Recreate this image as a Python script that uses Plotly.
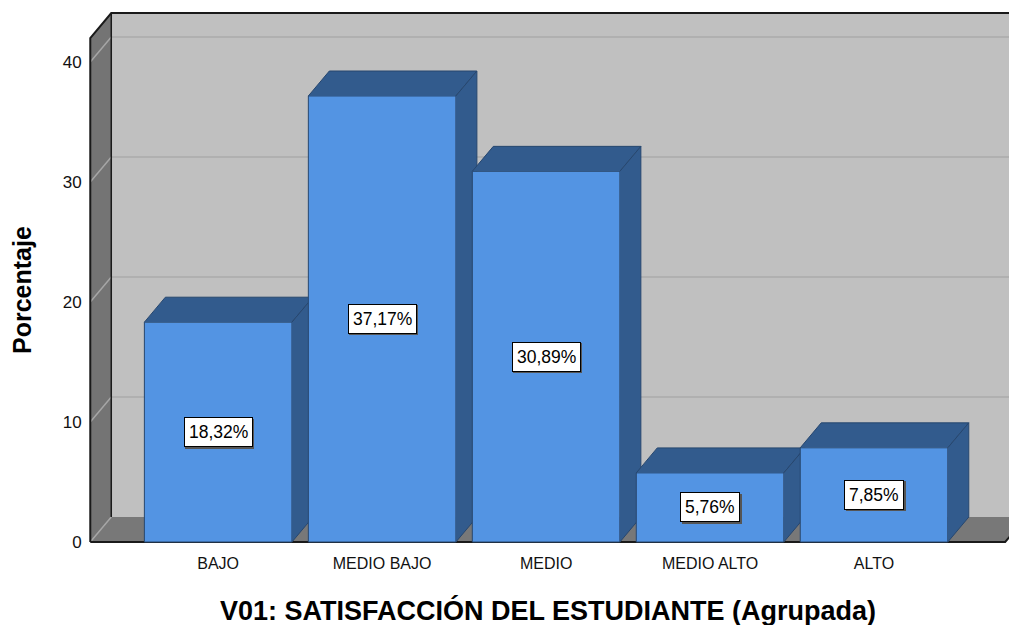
import plotly.graph_objects as go

# ---------------- data ----------------
categories = ["BAJO", "MEDIO BAJO", "MEDIO", "MEDIO ALTO", "ALTO"]
percentages = [18.32, 37.17, 30.89, 5.76, 7.85]
y_ticks = [0, 10, 20, 30, 40]
x_title = "V01: SATISFACCIÓN DEL ESTUDIANTE (Agrupada)"
y_title = "Porcentaje"

# ---------------- style ----------------
FONT = "Liberation Sans, Arial, sans-serif"
FRONT = "#5394E3"
DARK = "#325B8D"
EDGE = "#27476F"
WALL_BACK = "#C0C0C0"
WALL_SIDE = "#747474"
FLOOR = "#787878"
GRID_BACK = "#B0B0B0"
GRID_SIDE = "#A6A6A6"

BAR_W = 0.9          # bar width in category units
DX = 0.128           # 3D depth offset (x units)
DY = 2.08            # 3D depth offset (y units)
X_LEFT = -0.78       # front edge of left wall
X_RIGHT = 4.80       # front right edge of floor
WALL_TOP = 42.0      # height of the front edge of the left wall
XR = [-0.80, 4.872]
YR = [-0.25, 44.25]
FAR = XR[1] + 1

# the page body has an 8px default margin; the figure is sized to compensate
PAGE_OFF = 8

fig = go.Figure()


def poly(xs, ys, fill, line_color, line_width, xa="x", ya="y"):
    fig.add_trace(go.Scatter(
        x=xs, y=ys, mode="lines", fill="toself", fillcolor=fill,
        line=dict(color=line_color, width=line_width),
        hoverinfo="skip", showlegend=False, xaxis=xa, yaxis=ya))


def seg(xs, ys, color, width, xa="x", ya="y"):
    fig.add_trace(go.Scatter(
        x=xs, y=ys, mode="lines", line=dict(color=color, width=width),
        hoverinfo="skip", showlegend=False, xaxis=xa, yaxis=ya))


# back wall
poly([X_LEFT + DX, FAR, FAR, X_LEFT + DX],
     [DY, DY, WALL_TOP + DY, WALL_TOP + DY], WALL_BACK, WALL_BACK, 0)
for t in y_ticks[1:]:
    seg([X_LEFT + DX, FAR], [t + DY, t + DY], GRID_BACK, 2)

# floor
poly([X_LEFT, X_LEFT + DX, X_RIGHT + DX, X_RIGHT],
     [0, DY, DY, 0], FLOOR, FLOOR, 0)

# left wall
poly([X_LEFT, X_LEFT, X_LEFT + DX, X_LEFT + DX],
     [0, WALL_TOP, WALL_TOP + DY, DY], WALL_SIDE, WALL_SIDE, 0)
for t in y_ticks:
    seg([X_LEFT, X_LEFT + DX], [t, t + DY], GRID_SIDE, 1.5)

# outlines
seg([X_LEFT + DX, X_LEFT + DX], [DY, WALL_TOP + DY], "#1a1a1a", 1.5)
seg([X_LEFT, X_LEFT, X_LEFT + DX, FAR],
    [0, WALL_TOP, WALL_TOP + DY, WALL_TOP + DY], "#1a1a1a", 2)
seg([X_LEFT, X_RIGHT, X_RIGHT + DX], [0, 0, DY], "#1a1a1a", 2)

# bars, each on its own overlay subplot so that later bars hide earlier sides
for k, (cat, v) in enumerate(zip(categories, percentages)):
    xa, ya = f"x{k + 2}", f"y{k + 2}"
    fig.add_trace(go.Bar(
        x=[k], y=[v], width=BAR_W, marker=dict(color=FRONT, line=dict(color=EDGE, width=1)),
        hoverinfo="skip", showlegend=False, xaxis=xa, yaxis=ya))
    l, r = k - BAR_W / 2, k + BAR_W / 2
    # top face
    poly([l, l + DX, r + DX, r], [v, v + DY, v + DY, v], DARK, EDGE, 1, xa, ya)
    # right side face
    poly([r, r + DX, r + DX, r], [0, DY, v + DY, v], DARK, EDGE, 1, xa, ya)

layout_axes = {}
for k in range(len(categories)):
    layout_axes[f"xaxis{k + 2}"] = dict(overlaying="x", range=XR, visible=False,
                                        anchor=f"y{k + 2}", fixedrange=True)
    layout_axes[f"yaxis{k + 2}"] = dict(overlaying="y", range=YR, visible=False,
                                        anchor=f"x{k + 2}", fixedrange=True)

annotations = []
for k, v in enumerate(percentages):
    txt = f"{v:.2f}".replace(".", ",") + "%"
    # subtle shadow
    annotations.append(dict(
        x=k, y=v / 2, xref="x", yref="y", text=txt, showarrow=False,
        font=dict(family=FONT, size=17.5, color="#555555"),
        bgcolor="#555555", bordercolor="#555555", borderwidth=1, borderpad=4,
        xshift=1.5, yshift=-1.5))
    annotations.append(dict(
        x=k, y=v / 2, xref="x", yref="y", text=txt, showarrow=False,
        font=dict(family=FONT, size=17.5, color="#000000"),
        bgcolor="#FFFFFF", bordercolor="#000000", borderwidth=1, borderpad=4))

annotations.append(dict(
    x=0, xref="paper", xshift=-65, y=WALL_TOP / 2, yref="y",
    text=f"<b>{y_title}</b>", textangle=-90, showarrow=False,
    xanchor="center", yanchor="middle",
    font=dict(family=FONT, size=25, color="#000000")))
annotations.append(dict(
    x=(X_LEFT + X_RIGHT) / 2, xref="x", y=0, yref="paper", yshift=-65,
    text=f"<b>{x_title}</b>", showarrow=False,
    xanchor="center", yanchor="middle",
    font=dict(family=FONT, size=27, color="#000000")))

fig.update_layout(
    width=1017 - PAGE_OFF, height=625 - PAGE_OFF,
    margin=dict(l=87 - PAGE_OFF, r=0, t=11 - PAGE_OFF, b=80, pad=0),
    paper_bgcolor="white", plot_bgcolor="white",
    showlegend=False,
    barmode="overlay",
    font=dict(family=FONT, color="#000000"),
    xaxis=dict(range=XR, showgrid=False, zeroline=False, showline=False,
               tickmode="array", tickvals=list(range(len(categories))), ticktext=categories,
               tickfont=dict(family=FONT, size=16, color="#111111"),
               ticks="outside", ticklen=4, tickcolor="rgba(0,0,0,0)", fixedrange=True),
    yaxis=dict(range=YR, showgrid=False, zeroline=False, showline=False,
               tickmode="array", tickvals=y_ticks,
               tickfont=dict(family=FONT, size=17, color="#111111"),
               ticks="outside", ticklen=1, tickcolor="rgba(0,0,0,0)", fixedrange=True),
    annotations=annotations,
    **layout_axes,
)

fig.write_html("out.html")
